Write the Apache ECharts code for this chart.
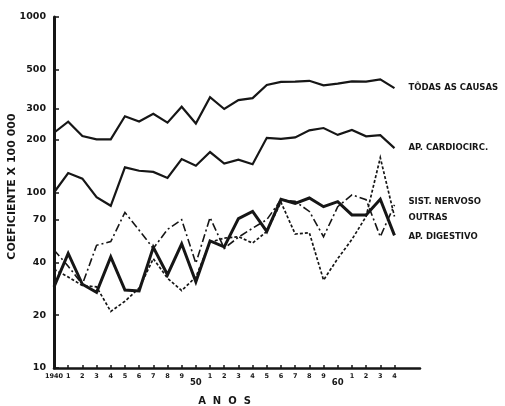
<!DOCTYPE html>
<html>
<head>
<meta charset="utf-8">
<script src="https://cdn.jsdelivr.net/npm/echarts@6/dist/echarts.min.js"></script>
<style>
html,body{margin:0;padding:0;background:#fff;}
#c{width:505px;height:406px;}
</style>
</head>
<body>
<div id="c"></div>
<script>
const years = [1940,1941,1942,1943,1944,1945,1946,1947,1948,1949,1950,1951,1952,1953,1954,1955,1956,1957,1958,1959,1960,1961,1962,1963,1964];
const todasCausas = [219,253,210,201,201,272,254,281,250,308,247,349,299,336,345,410,427,428,433,408,417,430,428,441,393];
const apCardiocirc = [100,129,120,94,84,139,133,131,121,155,142,170,146,154,145,205,202,206,226,233,213,227,209,212,179];
const sistNervoso = [47,38,30,50,52.5,77,61,48,61.6,70,39.5,72,48,55.6,62.6,70,91,89,78,56,83,97,91,56,85];
const outras = [36.5,33,29.5,29,21,24,28.5,42,32.5,27.6,33,52,55,56,51.5,60,88,58,59,31.7,42,54,73,158,73];
const apDigestivo = [29,45,30,27,43,27.8,27.5,48.7,34,51,31,53,49,71,78,60,91.5,86.6,93,83,88.7,74.5,74.5,91.5,57];
const yTicks = [10,20,40,70,100,200,300,500,1000];
const seriesNames = ['TÔDAS AS CAUSAS','AP. CARDIOCIRC.','SIST. NERVOSO','OUTRAS','AP. DIGESTIVO'];

const ink = '#161616';
function pairs(arr){ return years.map((y,i)=>[y,arr[i]]); }
function mk(name, data, lineStyle, labelOffset){
  return {
    name: name, type: 'line', data: pairs(data), symbol: 'none', smooth: false,
    lineStyle: Object.assign({color: ink, cap: 'butt', join: 'miter'}, lineStyle),
    endLabel: {
      show: true, formatter: name, distance: 14, offset: labelOffset || [0,0],
      color: ink, fontFamily: 'DejaVu Sans', fontWeight: 'bold', fontSize: 8.5
    },
    emphasis: {disabled: true}, animation: false
  };
}
const chart = echarts.init(document.getElementById('c'), null, {renderer: 'canvas'});
chart.setOption({
  backgroundColor: '#fff',
  animation: false,
  grid: {left: 54, right: 85, top: 17, bottom: 38, containLabel: false, outerBoundsMode: 'none'},
  xAxis: {
    type: 'value', min: 1940, max: 1965.8,
    name: 'A  N  O  S', nameLocation: 'middle', nameGap: 28, nameMoveOverlap: false,
    nameTextStyle: {color: ink, fontFamily: 'DejaVu Sans', fontWeight: 'bold', fontSize: 10, padding: [0, 25, 0, 0]},
    axisLine: {show: true, lineStyle: {color: ink, width: 2.5}},
    splitLine: {show: false},
    axisTick: {show: true, inside: true, length: 3, lineStyle: {color: ink, width: 1.5}, customValues: years},
    axisLabel: {
      show: true, customValues: years, margin: 5, color: ink,
      fontFamily: 'DejaVu Sans', fontWeight: 'bold', fontSize: 6.5,
      formatter: function(v){
        if (v === 1940) return '1940';
        if (v === 1950) return '{big|50}';
        if (v === 1960) return '{big|60}';
        return String(v % 10);
      },
      rich: {big: {fontFamily: 'DejaVu Sans', fontWeight: 'bold', fontSize: 8.5, color: ink, padding: [5,0,0,0]}}
    }
  },
  yAxis: {
    type: 'log', logBase: 10, min: 10, max: 1000,
    name: 'COEFICIENTE X 100 000', nameLocation: 'middle', nameGap: 36, nameRotate: 90, nameMoveOverlap: false,
    nameTextStyle: {color: ink, fontFamily: 'DejaVu Sans', fontWeight: 'bold', fontSize: 11, padding: [0, 0, 0, 12]},
    axisLine: {show: true, lineStyle: {color: ink, width: 3}},
    splitLine: {show: false},
    minorTick: {show: false},
    axisTick: {show: true, inside: true, length: 5, lineStyle: {color: ink, width: 1.5}, customValues: yTicks},
    axisLabel: {
      show: true, customValues: yTicks, margin: 8, color: ink,
      fontFamily: 'DejaVu Sans', fontWeight: 'bold', fontSize: 9.5,
      formatter: function(v){ return String(Math.round(v)); }
    }
  },
  series: [
    mk(seriesNames[0], todasCausas, {width: 2.2, type: 'solid'}),
    mk(seriesNames[1], apCardiocirc, {width: 2.2, type: 'solid'}),
    mk(seriesNames[2], sistNervoso, {width: 1.6, type: [8,3,2,3]}, [0,-3]),
    mk(seriesNames[3], outras, {width: 1.7, type: [3,2]}, [0,1]),
    mk(seriesNames[4], apDigestivo, {width: 3, type: 'solid'}, [0,1])
  ]
});
</script>
</body>
</html>
